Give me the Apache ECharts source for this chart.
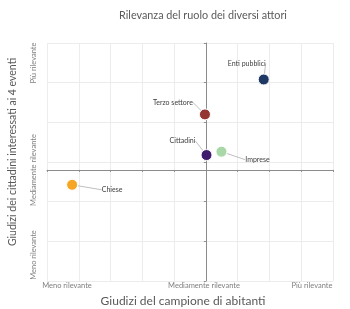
<!DOCTYPE html>
<html><head><meta charset="utf-8">
<script src="https://cdn.jsdelivr.net/npm/echarts@6/dist/echarts.min.js"></script>
<style>html,body{margin:0;padding:0;background:#fff}#c{width:350px;height:309px}</style>
</head><body><div id="c"></div>
<script>
var actors = ['Enti pubblici','Terzo settore','Cittadini','Imprese','Chiese'];
var xValues = [1.82, -0.03, 0.02, 0.49, -4.21];
var yValues = [2.28, 1.40, 0.375, 0.46, -0.375];
var colors = ['#1F3864','#943634','#3F1C6E','#A8D8A8','#F5A623'];
var xCatLabels = ['Meno rilevante','Mediamente rilevante','Più rilevante'];
var yCatLabels = ['Meno rilevante','Mediamente rilevante','Più rilevante'];
var labelOffsets = [[-17,-16],[-32,-12],[-24,-14],[36,8],[40,5]];

var FONT = 'Lato';
var chart = echarts.init(document.getElementById('c'));
var data = actors.map(function(a,i){
  return {name:a, value:[xValues[i], yValues[i]], itemStyle:{color:colors[i]}};
});
function txt(s, x, y, size, color, rot){
  return {type:'text', x:x, y:y, rotation:rot||0,
    style:{text:s, fill:color, font:size+'px '+FONT, align:'center', verticalAlign:'middle'}};
}
chart.setOption({
  animation:false,
  grid:{left:47, right:17, top:43, bottom:28},
  xAxis:{type:'value', min:-5, max:4, interval:1,
    axisLine:{onZero:true, lineStyle:{color:'#8c8c8c', width:1}},
    axisTick:{show:true, length:2, lineStyle:{color:'#8c8c8c'}},
    axisLabel:{show:false},
    splitLine:{lineStyle:{color:'#ececec'}}},
  yAxis:{type:'value', min:-2.8, max:3.2, interval:1,
    axisLine:{onZero:true, lineStyle:{color:'#8c8c8c', width:1}},
    axisTick:{show:true, length:2, lineStyle:{color:'#8c8c8c'}},
    axisLabel:{show:false},
    splitLine:{lineStyle:{color:'#ececec'}}},
  graphic:[
    txt('Rilevanza del ruolo dei diversi attori', 203, 16, 10.8, '#595959'),
    txt('Giudizi del campione di abitanti', 183, 301, 12, '#595959'),
    txt('Giudizi dei cittadini interessati ai 4 eventi', 13, 152, 10.5, '#595959', Math.PI/2),
    txt(xCatLabels[0], 67, 286, 7.5, '#7f7f7f'),
    txt(xCatLabels[1], 204, 286, 7.5, '#7f7f7f'),
    txt(xCatLabels[2], 312, 286, 7.5, '#7f7f7f'),
    txt(yCatLabels[0], 34, 255, 7.5, '#7f7f7f', Math.PI/2),
    txt(yCatLabels[1], 34, 170, 7.5, '#7f7f7f', Math.PI/2),
    txt(yCatLabels[2], 34, 63, 7.5, '#7f7f7f', Math.PI/2)
  ],
  series:[{
    type:'scatter', symbolSize:11, data:data,
    itemStyle:{borderColor:'#ffffff', borderWidth:1, opacity:1},
    label:{show:true, formatter:'{b}', position:'inside', color:'#404040', fontFamily:FONT, fontSize:7},
    labelLine:{show:true, lineStyle:{color:'#bfbfbf', width:1}},
    labelLayout:function(p){ var o=labelOffsets[p.dataIndex]; return {dx:o[0], dy:o[1]}; }
  }]
});
</script></body></html>
